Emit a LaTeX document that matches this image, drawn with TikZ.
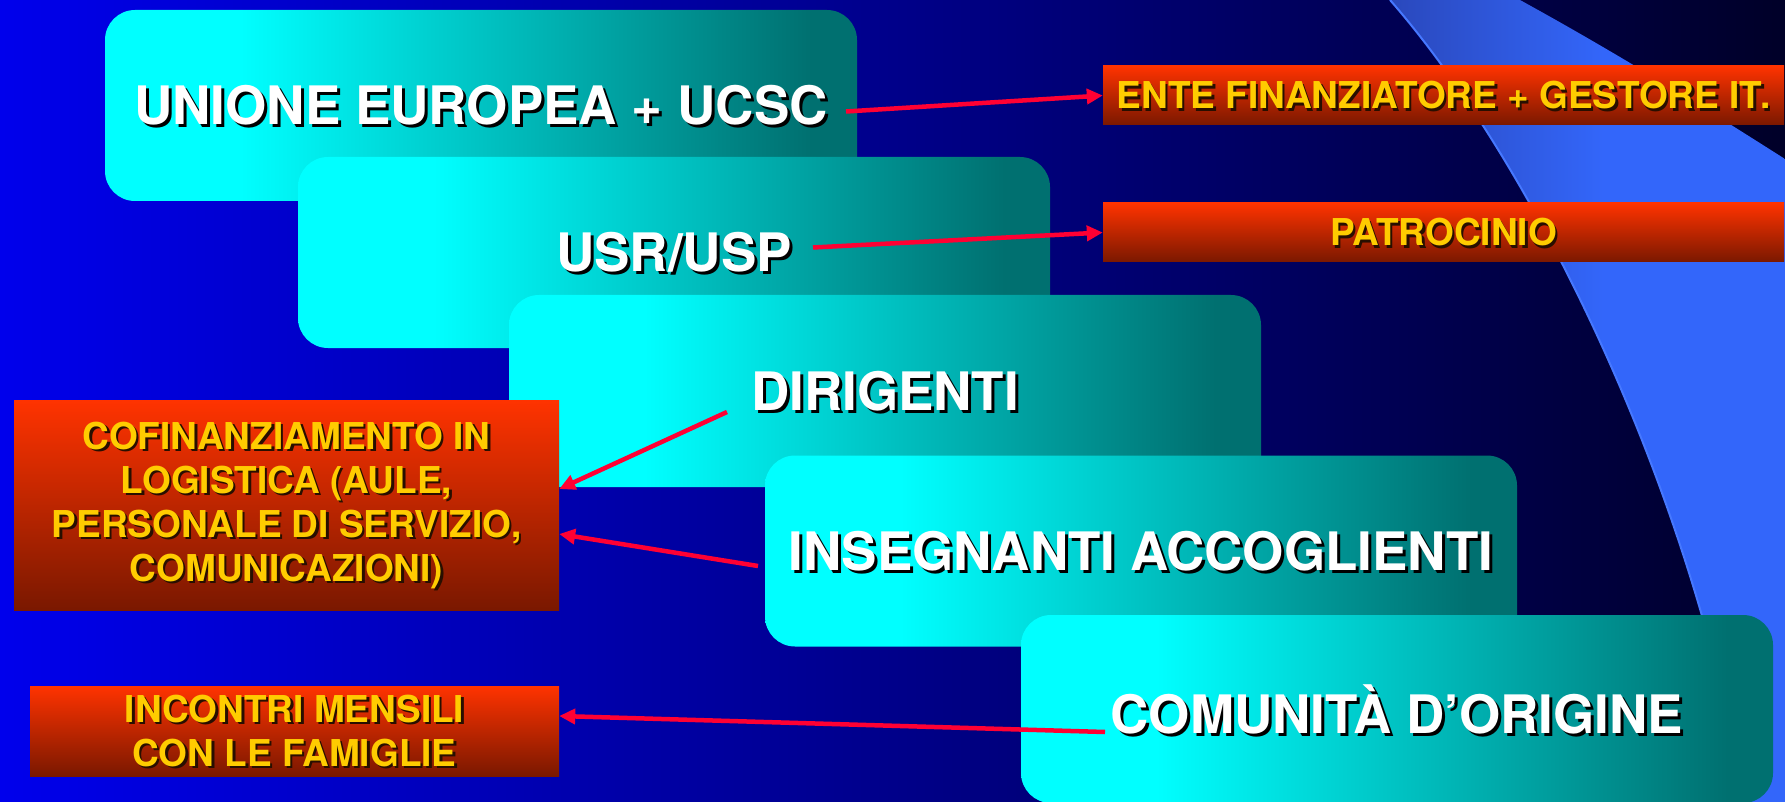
\documentclass[tikz,border=0pt]{standalone}
\usepackage{fontspec}
\setmainfont{TeX Gyre Heros}
\usetikzlibrary{arrows.meta}
\definecolor{bgL}{RGB}{0,0,236}
\definecolor{bgR}{RGB}{0,0,40}
\definecolor{bandA}{RGB}{42,72,188}
\definecolor{bandB}{RGB}{51,102,250}
\definecolor{bandEdge}{RGB}{70,120,255}
\definecolor{cyanA}{RGB}{0,255,255}
\definecolor{tealB}{RGB}{0,112,112}
\definecolor{redTop}{RGB}{255,51,0}
\definecolor{redBot}{RGB}{122,24,0}
\definecolor{goldtxt}{RGB}{255,204,0}
\definecolor{goldshadow}{RGB}{40,15,0}
\definecolor{arrowred}{RGB}{255,0,51}
\pgfdeclarehorizontalshading{bgshade}{100bp}{color(0bp)=(bgL); color(25bp)=(bgL); color(75bp)=(bgR); color(100bp)=(bgR)}
\pgfdeclarehorizontalshading{bandshade}{100bp}{color(0bp)=(bandA); color(25bp)=(bandA); color(52bp)=(bandB); color(100bp)=(bandB)}
\pgfdeclarehorizontalshading{cboxshade}{100bp}{color(0bp)=(cyanA); color(34bp)=(cyanA); color(72bp)=(tealB); color(100bp)=(tealB)}
\tikzset{
  cbox/.style={shade, shading=cboxshade, rounded corners=30pt, minimum width=752pt, minimum height=191pt, inner sep=0pt, draw=none},
  rbox/.style={top color=redTop, bottom color=redBot, inner sep=0pt, draw=none},
  wtxt/.style={text=white, font=\bfseries\fontsize{53}{60}\selectfont, inner sep=0pt},
  wshadow/.style={wtxt, text=black},
  ytxt/.style={text=goldtxt, font=\bfseries\fontsize{37}{44}\selectfont, align=center, inner sep=0pt},
  yshadow/.style={ytxt, text=goldshadow},
  link/.style={draw=arrowred, line width=4.5pt, -{Triangle[length=16pt,width=15pt]}}
}
\begin{document}
\begin{tikzpicture}[x=1pt,y=-1pt]
\useasboundingbox (0,0) rectangle (1785,802);
\shade[shading=bgshade] (0,0) rectangle (1785,802);
% decorative band
\shade[shading=bandshade] (1390,0) -- (1520,0) .. controls (1620,55) and (1700,105) .. (1785,159)
  -- (1785,802) -- (1745,802) .. controls (1690,480) and (1530,160) .. (1390,0) -- cycle;
\draw[bandEdge, line width=2pt] (1390,0) .. controls (1530,160) and (1690,480) .. (1745,802);
% cyan boxes
\node[cbox] (b1) at (481,105.5) {};
\node[wshadow] at ([shift={(3,3)}]b1.center) {UNIONE EUROPEA + UCSC};
\node[wtxt] (t1) at (b1.center) {UNIONE EUROPEA + UCSC};
\node[cbox] (b2) at (674,252.5) {};
\node[wshadow] at ([shift={(3,3)}]b2.center) {USR/USP};
\node[wtxt] (t2) at (b2.center) {USR/USP};
\node[cbox, minimum height=192pt] (b3) at (885,391) {};
\node[wshadow] at ([shift={(3,3)}]b3.center) {DIRIGENTI};
\node[wtxt] (t3) at (b3.center) {DIRIGENTI};
\node[cbox] (b4) at (1141,551) {};
\node[wshadow] at ([shift={(3,3)}]b4.center) {INSEGNANTI ACCOGLIENTI};
\node[wtxt] (t4) at (b4.center) {INSEGNANTI ACCOGLIENTI};
\node[cbox, minimum height=188pt] (b5) at (1397,709) {};
\node[wshadow] at ([shift={(3,3)}]b5.center) {COMUNITÀ D’ORIGINE};
\node[wtxt] (t5) at (b5.center) {COMUNITÀ D’ORIGINE};
% red boxes
\node[rbox, minimum width=681pt, minimum height=59pt] (ente) at (1443.5,95.5) {};
\node[yshadow] at ([shift={(2.5,2.5)}]ente.center) {ENTE FINANZIATORE + GESTORE IT.};
\node[ytxt] (te) at (ente.center) {ENTE FINANZIATORE + GESTORE IT.};
\node[rbox, minimum width=681pt, minimum height=59pt] (patro) at (1443.5,232.5) {};
\node[yshadow] at ([shift={(2.5,2.5)}]patro.center) {PATROCINIO};
\node[ytxt] (tp) at (patro.center) {PATROCINIO};
\node[rbox, minimum width=545pt, minimum height=210pt] (cofin) at (286.5,505) {};
\node[yshadow] at ([shift={(2.5,2.5)}]cofin.center) {COFINANZIAMENTO IN\\LOGISTICA (AULE,\\PERSONALE DI SERVIZIO,\\COMUNICAZIONI)};
\node[ytxt] (tc) at (cofin.center) {COFINANZIAMENTO IN\\LOGISTICA (AULE,\\PERSONALE DI SERVIZIO,\\COMUNICAZIONI)};
\node[rbox, minimum width=529pt, minimum height=90pt] (inc) at (294.5,731) {};
\node[yshadow] at ([shift={(2.5,2.5)}]inc.center) {INCONTRI MENSILI\\CON LE FAMIGLIE};
\node[ytxt] (ti) at (inc.center) {INCONTRI MENSILI\\CON LE FAMIGLIE};
% connectors
\draw[link] ([shift={(365,6)}]b1.center) -- (ente.west);
\draw[link] ([shift={(139,-5)}]b2.center) -- (patro.west);
\draw[link] ([shift={(-158,21)}]b3.center) -- ([shift={(0,-16)}]cofin.east);
\draw[link] ([shift={(-383,15)}]b4.center) -- ([shift={(0,29)}]cofin.east);
\draw[link] ([shift={(-292,23)}]b5.center) -- ([shift={(0,-15)}]inc.east);
\end{tikzpicture}
\end{document}
